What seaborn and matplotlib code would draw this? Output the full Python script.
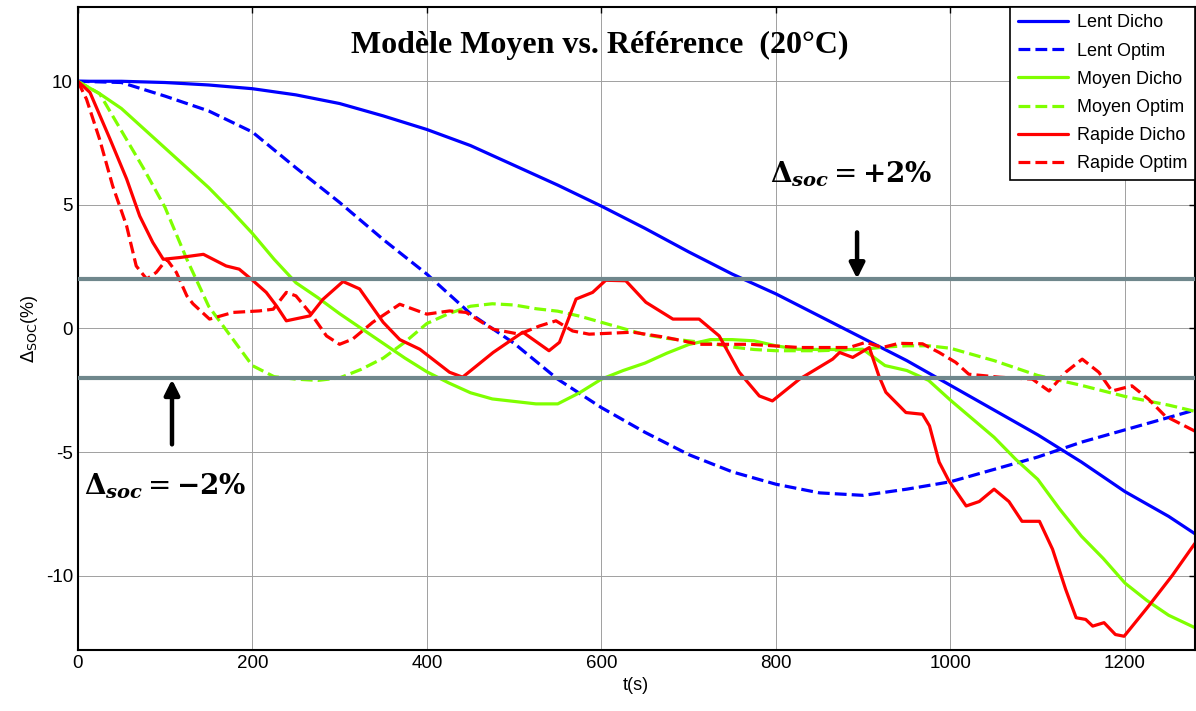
import numpy as np
import pandas as pd
import matplotlib
matplotlib.use("Agg")
import matplotlib.pyplot as plt
import seaborn as sns

# ==============================
# Data
# ==============================
lent_dicho_t = [0, 50, 100, 150, 200, 250, 300, 350, 400, 450, 500, 550, 600, 650,
                700, 750, 800, 850, 900, 950, 1000, 1050, 1100, 1150, 1200, 1250, 1280]
lent_dicho_y = [10, 10.0, 9.95, 9.85, 9.7, 9.45, 9.1, 8.6, 8.05, 7.4, 6.6, 5.8, 4.95, 4.05,
                3.1, 2.2, 1.4, 0.5, -0.4, -1.3, -2.3, -3.3, -4.3, -5.4, -6.6, -7.6, -8.3]

lent_optim_t = [0, 50, 100, 150, 200, 250, 300, 350, 400, 450, 500, 550, 600, 650,
                700, 750, 800, 850, 900, 950, 1000, 1050, 1100, 1150, 1200, 1250, 1280]
lent_optim_y = [10, 9.95, 9.4, 8.8, 7.95, 6.5, 5.1, 3.6, 2.2, 0.6, -0.6, -2.05, -3.2, -4.2,
                -5.1, -5.8, -6.3, -6.65, -6.75, -6.5, -6.2, -5.7, -5.2, -4.6, -4.1, -3.6, -3.3]

moyen_dicho_t = [0, 25, 50, 75, 100, 125, 150, 175, 200, 225, 250, 275, 300, 325, 350, 375,
                 400, 425, 450, 475, 500, 525, 550, 575, 600, 625, 650, 675, 700, 725, 750,
                 775, 800, 825, 850, 875, 900, 925, 950, 975, 1000, 1025, 1050, 1075, 1100,
                 1125, 1150, 1175, 1200, 1225, 1250, 1280]
moyen_dicho_y = [10, 9.5, 8.9, 8.1, 7.3, 6.5, 5.7, 4.8, 3.85, 2.8, 1.85, 1.25, 0.6, 0.0, -0.6,
                 -1.2, -1.75, -2.2, -2.6, -2.85, -2.95, -3.05, -3.05, -2.6, -2.05, -1.7, -1.4,
                 -1.0, -0.65, -0.45, -0.45, -0.5, -0.7, -0.84, -0.85, -0.85, -0.85, -1.5, -1.7,
                 -2.1, -2.9, -3.65, -4.4, -5.3, -6.1, -7.3, -8.4, -9.3, -10.3, -11.0, -11.6, -12.1]

moyen_optim_t = [0, 25, 50, 75, 100, 125, 150, 175, 200, 225, 250, 275, 300, 325, 350, 375,
                 400, 425, 450, 475, 500, 525, 550, 575, 600, 625, 650, 675, 700, 725, 750,
                 775, 800, 850, 900, 925, 950, 975, 1000, 1050, 1100, 1150, 1200, 1250, 1280]
moyen_optim_y = [10, 9.5, 8.0, 6.5, 4.9, 2.8, 0.9, -0.3, -1.5, -1.95, -2.05, -2.1, -2.0, -1.65,
                 -1.2, -0.55, 0.2, 0.6, 0.9, 1.0, 0.95, 0.8, 0.7, 0.5, 0.25, 0.0, -0.25, -0.4,
                 -0.5, -0.6, -0.75, -0.85, -0.9, -0.9, -0.84, -0.75, -0.7, -0.7, -0.8, -1.3,
                 -1.9, -2.3, -2.75, -3.1, -3.35]

rapide_dicho_t = [0, 14, 37, 56, 71, 86, 98, 117, 144, 170, 185, 201, 216, 228, 239, 266, 281,
                  304, 323, 350, 369, 392, 426, 441, 476, 510, 540, 552, 571, 590, 605, 628,
                  651, 682, 712, 735, 758, 781, 796, 827, 865, 873, 888, 907, 918, 926, 949,
                  968, 976, 987, 998, 1018, 1033, 1050, 1067, 1082, 1102, 1117, 1132, 1144,
                  1155, 1163, 1176, 1189, 1199, 1227, 1254, 1280]
rapide_dicho_y = [10, 9.55, 7.66, 6.05, 4.55, 3.48, 2.8, 2.87, 3.0, 2.53, 2.4, 1.93, 1.46, 0.9,
                  0.31, 0.51, 1.18, 1.9, 1.6, 0.25, -0.45, -0.84, -1.77, -1.97, -0.97, -0.15,
                  -0.9, -0.56, 1.19, 1.46, 1.95, 1.93, 1.06, 0.38, 0.38, -0.3, -1.77, -2.73,
                  -2.93, -2.05, -1.24, -0.97, -1.17, -0.77, -1.92, -2.58, -3.4, -3.47, -3.94,
                  -5.4, -6.15, -7.18, -7.0, -6.5, -7.0, -7.8, -7.8, -8.93, -10.55, -11.7,
                  -11.77, -12.04, -11.9, -12.38, -12.45, -11.23, -10.0, -8.7]

rapide_optim_t = [0, 10, 25, 40, 56, 67, 79, 90, 102, 113, 125, 132, 151, 178, 208, 224, 239,
                  250, 269, 285, 300, 315, 338, 369, 400, 426, 445, 476, 506, 529, 548, 567,
                  586, 636, 674, 712, 770, 827, 884, 903, 922, 941, 968, 987, 1006, 1021,
                  1056, 1094, 1113, 1132, 1151, 1170, 1185, 1208, 1227, 1246, 1280]
rapide_optim_y = [10, 9.28, 7.66, 5.77, 4.15, 2.53, 2.0, 2.27, 2.8, 2.27, 1.32, 1.0, 0.38, 0.65,
                  0.71, 0.78, 1.46, 1.32, 0.51, -0.3, -0.64, -0.43, 0.25, 0.98, 0.58, 0.71,
                  0.65, -0.03, -0.23, 0.1, 0.31, -0.1, -0.23, -0.15, -0.36, -0.64, -0.64,
                  -0.77, -0.77, -0.56, -0.77, -0.6, -0.62, -0.97, -1.37, -1.85, -1.97, -2.05,
                  -2.53, -1.77, -1.24, -1.77, -2.53, -2.32, -2.86, -3.54, -4.15]

series_names = ["Lent Dicho", "Lent Optim", "Moyen Dicho", "Moyen Optim",
                "Rapide Dicho", "Rapide Optim"]
series_t = [lent_dicho_t, lent_optim_t, moyen_dicho_t, moyen_optim_t,
            rapide_dicho_t, rapide_optim_t]
series_y = [lent_dicho_y, lent_optim_y, moyen_dicho_y, moyen_optim_y,
            rapide_dicho_y, rapide_optim_y]
series_colors = ["#0000ff", "#0000ff", "#7fff00", "#7fff00", "#ff0000", "#ff0000"]
series_styles = ["-", "--", "-", "--", "-", "--"]

limits = [2, -2]

# ==============================
# Style
# ==============================
sns.set_style("white")
plt.rcParams["font.family"] = ["Liberation Sans", "DejaVu Sans"]
plt.rcParams["mathtext.fontset"] = "dejavuserif"
plt.rcParams["axes.unicode_minus"] = False
plt.rcParams["text.color"] = "black"
plt.rcParams["axes.labelcolor"] = "black"

fig = plt.figure(figsize=(11.96, 7.11), dpi=100)
ax = fig.add_axes([0.065, 0.086, 0.934, 0.904])

# ==============================
# Curves
# ==============================
for name, t, y, c, ls in zip(series_names, series_t, series_y,
                             series_colors, series_styles):
    sns.lineplot(x=t, y=y, color=c, linestyle=ls, linewidth=2.3,
                 label=name, ax=ax, zorder=2)

for lim in limits:
    ax.axhline(lim, color="#6f878c", linewidth=3, zorder=3)

# ==============================
# Axes
# ==============================
ax.set_xlim(0, 1280)
ax.set_ylim(-13, 13)
ax.set_xticks([0, 200, 400, 600, 800, 1000, 1200])
ax.set_yticks([-10, -5, 0, 5, 10])
ax.tick_params(direction="in", top=True, right=True, labelsize=13.5,
               length=4, width=1, colors="black")
ax.grid(True, color="#a0a0a0", linewidth=0.7)
for sp in ax.spines.values():
    sp.set_color("black")
    sp.set_linewidth(1.5)

ax.set_xlabel("t(s)", fontsize=13, labelpad=4)
ax.set_ylabel(r"$\Delta_{\mathrm{SOC}}$(%)", fontsize=13, labelpad=4,
              math_fontfamily="dejavusans")

ax.text(598, 11.45, "Modèle Moyen vs. Référence  (20°C)", ha="center", va="center",
        fontsize=23, fontweight="bold", color="black",
        family=["Liberation Serif", "DejaVu Serif"])

# ==============================
# Annotations
# ==============================
ax.text(886, 6.25, r"$\mathbf{\Delta}_{\boldsymbol{soc}} = \mathbf{+2\%}$",
        ha="center", va="center", fontsize=20)
ax.annotate("", xy=(893, 1.9), xytext=(893, 4.0),
            arrowprops=dict(arrowstyle="-|>,head_length=0.9,head_width=0.45",
                            color="black", lw=3.2))

ax.text(100, -6.38, r"$\mathbf{\Delta}_{\boldsymbol{soc}} = \mathbf{-2\%}$",
        ha="center", va="center", fontsize=20)
ax.annotate("", xy=(108, -1.95), xytext=(108, -4.8),
            arrowprops=dict(arrowstyle="-|>,head_length=0.9,head_width=0.45",
                            color="black", lw=3.2))

# ==============================
# Legend
# ==============================
leg = ax.legend(loc="upper right", fontsize=13, frameon=True, fancybox=False,
                framealpha=1, edgecolor="black", handlelength=2.8,
                borderaxespad=0.0, labelspacing=0.62, handletextpad=0.5)
leg.get_frame().set_linewidth(1.2)
for txt in leg.get_texts():
    txt.set_color("black")

fig.savefig("out.png", dpi=100)
plt.close()
